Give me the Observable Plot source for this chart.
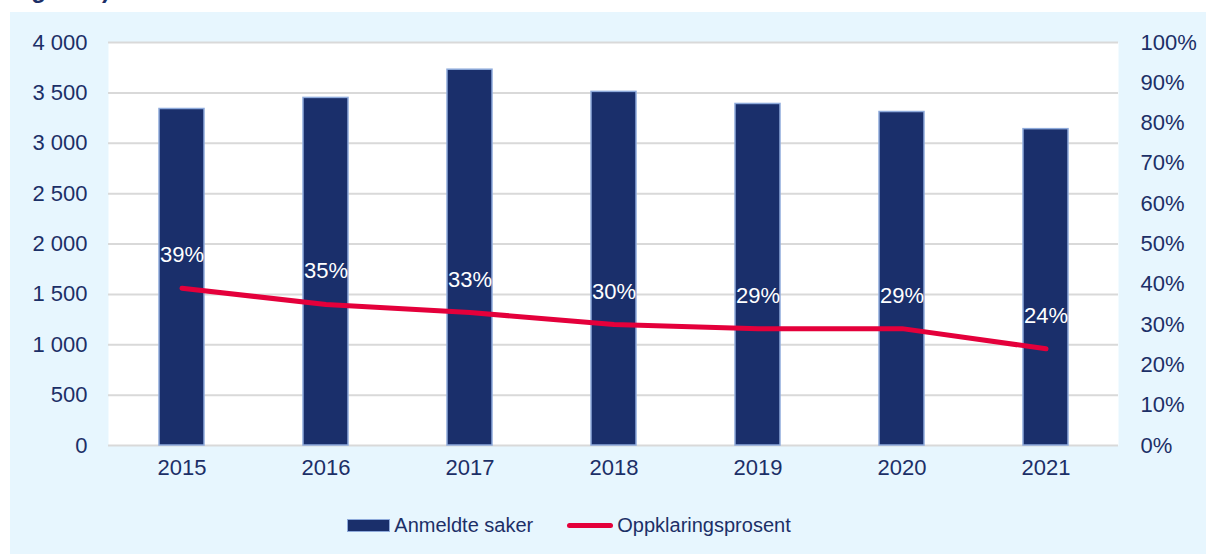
<!DOCTYPE html>
<html><head><meta charset="utf-8">
<script src="https://cdn.jsdelivr.net/npm/d3@7"></script>
<script src="https://cdn.jsdelivr.net/npm/@observablehq/plot@0.6"></script>
<style>
body{margin:0;background:#fff;font-family:"Liberation Sans",Arial,sans-serif;overflow:hidden;width:1206px;height:554px;position:relative}
#title{position:absolute;left:10px;top:-22px;font-size:24px;line-height:24px;font-weight:bold;color:#1c2f67;white-space:nowrap}
#panel{position:absolute;left:10px;top:12px;width:1196px;height:542px;background:#e7f6fe}
#legend{position:absolute;left:0;top:502px;width:1196px;display:flex;justify-content:center;align-items:center;font-size:20px;color:#1c2f67;gap:0}
.item{display:flex;align-items:center}
.sw-bar{width:41px;height:11px;background:#1a2f6b;border:1px solid #8eaadb;margin-right:4px}
.sw-line{width:46px;height:5px;border-radius:3px;background:#e4003b;margin-right:4px}
</style></head>
<body>
<div id="title">Figur 11)</div>
<div id="panel"><div id="chart"></div>
<div id="legend">
 <div class="item" style="margin-left:-78px"><div class="sw-bar"></div><span>Anmeldte saker</span></div>
 <div class="item" style="margin-left:34px"><div class="sw-line"></div><span>Oppklaringsprosent</span></div>
</div></div>
<script>
const years = ["2015","2016","2017","2018","2019","2020","2021"];
const anmeldte = [3340, 3450, 3730, 3510, 3390, 3310, 3140];
const oppklaring = [39, 35, 33, 30, 29, 29, 24];
const leftTicks = [0,500,1000,1500,2000,2500,3000,3500,4000];
const rightTicks = [0,10,20,30,40,50,60,70,80,90,100];

const data = years.map((y,i)=>({year:y, saker:anmeldte[i], pct:oppklaring[i]}));
const yMax = 4000;
const toY = p => p / 100 * yMax;
const fmt = d3.formatLocale({decimal:",", thousands:" ", grouping:[3], currency:["","kr"]}).format(",d");
const navy = "#1c2f67";

const chart = Plot.plot({
  width: 1196,
  height: 480,
  marginLeft: 98,
  marginRight: 88,
  marginTop: 30,
  marginBottom: 47,
  style: {background:"transparent", fontSize:"22px", fontFamily:'"Liberation Sans", Arial, sans-serif', color:navy},
  x: {domain: years, type:"band", paddingInner:0.69, paddingOuter:0.345, label:null},
  y: {domain:[0,yMax], label:null},
  marks: [
    Plot.frame({fill:"white", stroke:null}),
    Plot.ruleY(leftTicks, {stroke:"#d9d9d9", strokeWidth:2}),
    Plot.barY(data, {x:"year", y:"saker", fill:"#1a2f6b", stroke:"#8eaadb", strokeWidth:1.5}),
    Plot.lineY(data, {x:"year", y:d=>toY(d.pct), stroke:"#e4003b", strokeWidth:5, strokeLinecap:"round", strokeLinejoin:"round"}),
    Plot.text(data, {x:"year", y:d=>toY(d.pct), text:d=>d.pct+"%", fill:"white", dy:-33, fontSize:22}),
    Plot.axisY(leftTicks, {anchor:"left", tickFormat:fmt, tickSize:0, tickPadding:21, label:null, fill:navy, fontSize:22}),
    Plot.axisY(rightTicks.map(toY), {anchor:"right", tickFormat:d=>Math.round(d/yMax*100)+"%", tickSize:0, tickPadding:22, label:null, fill:navy, fontSize:22}),
    Plot.axisX({tickSize:0, tickPadding:14, label:null, fill:navy, fontSize:22})
  ]
});
document.getElementById("chart").appendChild(chart);
</script>
</body></html>
